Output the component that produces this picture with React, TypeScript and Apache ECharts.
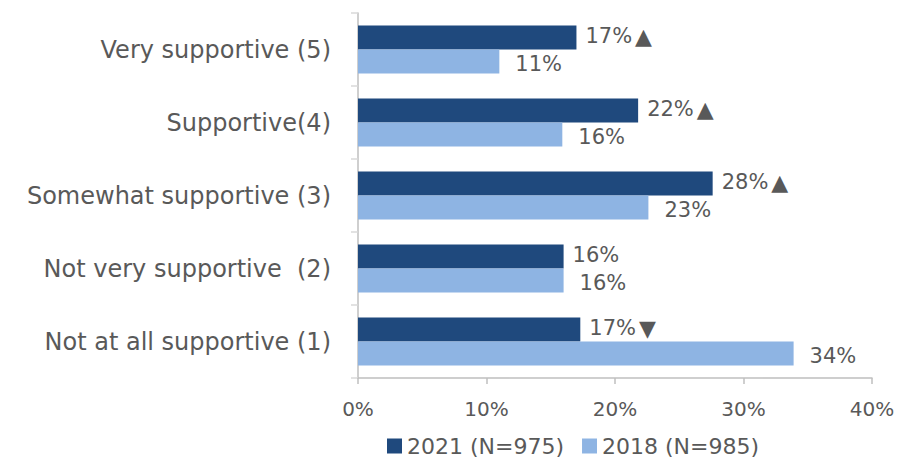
import React, { useEffect, useRef } from "react";
import * as echarts from "echarts";

const categories = [
  "Very supportive (5)",
  "Supportive(4)",
  "Somewhat supportive (3)",
  "Not very supportive  (2)",
  "Not at all supportive (1)",
];
const values2021 = [17.0, 21.8, 27.6, 16.0, 17.3];
const values2018 = [11.0, 15.9, 22.6, 16.0, 33.9];
const sigMarks2021 = ["▲", "▲", "▲", "", "▼"];
const seriesNames = ["2021 (N=975)", "2018 (N=985)"];
const xTicks = [0, 10, 20, 30, 40];

const FONT = "'DejaVu Sans', sans-serif";
const TEXT = "#595959";

export default function App() {
  const ref = useRef<HTMLDivElement>(null);
  useEffect(() => {
    document.body.style.margin = "0";
    if (!ref.current) return;
    const chart = echarts.init(ref.current, null, { renderer: "svg" });
    chart.setOption({
      animation: false,
      textStyle: { fontFamily: FONT, color: TEXT },
      grid: {
        left: 358,
        right: 27,
        top: 13,
        bottom: 83,
        containLabel: false,
        outerBoundsMode: "none",
      },
      legend: {
        top: 430,
        left: 382,
        itemWidth: 15,
        itemHeight: 15,
        itemGap: 18,
        icon: "rect",
        textStyle: { fontSize: 22, color: TEXT, fontFamily: FONT },
        data: seriesNames,
      },
      xAxis: {
        type: "value",
        min: xTicks[0],
        max: xTicks[xTicks.length - 1],
        interval: 10,
        axisLine: { show: true, lineStyle: { color: "#bfbfbf", width: 1.5 } },
        axisTick: { show: true, length: 6, lineStyle: { color: "#bfbfbf", width: 1.5 } },
        splitLine: { show: false },
        axisLabel: {
          formatter: (v: number) => v + "%",
          fontSize: 20,
          color: TEXT,
          fontFamily: FONT,
          margin: 21,
        },
      },
      yAxis: {
        type: "category",
        inverse: true,
        data: categories,
        axisLine: { show: true, lineStyle: { color: "#bfbfbf", width: 1.5 } },
        axisTick: { show: true, length: 7, lineStyle: { color: "#d9d9d9", width: 1.5 } },
        axisLabel: { fontSize: 24, color: TEXT, fontFamily: FONT, margin: 27 },
      },
      series: [
        {
          name: seriesNames[0],
          type: "bar",
          data: values2021,
          barGap: "0%",
          barCategoryGap: "34%",
          itemStyle: { color: "#1F497D" },
          label: {
            show: true,
            position: "right",
            distance: 9,
            offset: [0, -1],
            fontSize: 21,
            color: TEXT,
            fontFamily: FONT,
            formatter: (p: any) => {
              const m = sigMarks2021[p.dataIndex];
              return "{v|" + Math.round(p.value) + "%}" + (m ? "{t|" + m + "}" : "");
            },
            rich: {
              v: { fontSize: 21, color: TEXT, fontFamily: FONT },
              t: { fontSize: 22, color: TEXT, fontFamily: FONT, padding: [0, 0, 0, 3] },
            },
          },
        },
        {
          name: seriesNames[1],
          type: "bar",
          data: values2018,
          barGap: "0%",
          barCategoryGap: "34%",
          itemStyle: { color: "#8EB4E3" },
          label: {
            show: true,
            position: "right",
            distance: 16,
            offset: [0, 2],
            fontSize: 21,
            color: TEXT,
            fontFamily: FONT,
            formatter: (p: any) => Math.round(p.value) + "%",
          },
        },
      ],
    });
    return () => chart.dispose();
  }, []);
  return <div ref={ref} style={{ width: 899, height: 461 }} />;
}
